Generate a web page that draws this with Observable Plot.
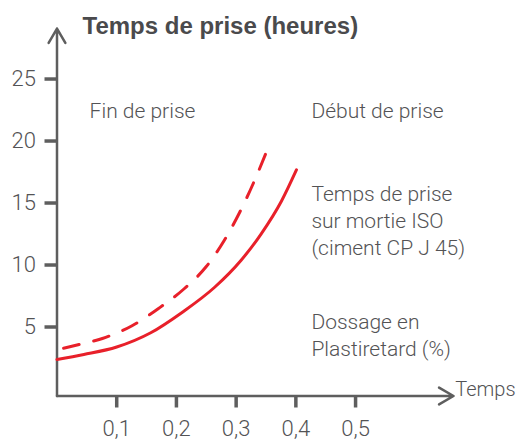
<!DOCTYPE html>
<html>
<head>
<meta charset="utf-8">
<script src="https://cdn.jsdelivr.net/npm/d3@7"></script>
<script src="https://cdn.jsdelivr.net/npm/@observablehq/plot@0.6"></script>
<style>
  html, body { margin: 0; padding: 0; background: #fff; }
  #chart { width: 516px; height: 441px; }
</style>
</head>
<body>
<div id="chart"></div>
<script>
// Title and labels
const title = "Temps de prise (heures)";
const xAxisLabel = "Temps";
const labelFin = "Fin de prise";
const labelDebut = "Début de prise";
const labelIso = "Temps de prise\nsur mortie ISO\n(ciment CP J 45)";
const labelDosage = "Dossage en\nPlastiretard (%)";

// Tick values and labels
const xTicks = [0.1, 0.2, 0.3, 0.4, 0.5];
const xTickLabels = ["0,1", "0,2", "0,3", "0,4", "0,5"];
const yTicks = [5, 10, 15, 20, 25];
const yTickLabels = ["5", "10", "15", "20", "25"];

// Solid curve (Fin de prise)
const finX = [0, 0.045, 0.1, 0.157, 0.21, 0.264, 0.308, 0.342, 0.376, 0.401];
const finY = [2.95, 3.35, 3.95, 5.1, 6.76, 8.77, 10.93, 13.08, 15.73, 18.24];

// Dashed curve (Début de prise)
const debutX = [0.011, 0.037, 0.076, 0.125, 0.170, 0.213, 0.25, 0.28, 0.306, 0.329, 0.355];
const debutY = [3.85, 4.15, 4.64, 5.65, 7.06, 8.65, 10.44, 12.54, 14.82, 17.18, 20.2];

const fin = finX.map((x, i) => ({x, y: finY[i]}));
const debut = debutX.map((x, i) => ({x, y: debutY[i]}));

const xMax = 0.664;
const yMax = 29.64;

const axisColor = "#5e5e5e";
const textColor = "#535355";
const red = "#e8202a";
const labelFont = "Roboto, sans-serif";

const chart = Plot.plot({
  width: 516,
  height: 441,
  marginLeft: 56.5,
  marginRight: 516 - 453,
  marginTop: 28,
  marginBottom: 45.5,
  style: {fontFamily: labelFont, background: "#fff", overflow: "visible"},
  x: {domain: [0, xMax]},
  y: {domain: [0, yMax]},
  marks: [
    Plot.axisY({
      ticks: yTicks,
      tickSize: 12,
      tickPadding: 9,
      strokeWidth: 3.5,
      stroke: axisColor,
      fill: textColor,
      fontSize: 22,
      fontWeight: 300,
      dy: -7,
      tickFormat: d => yTickLabels[yTicks.indexOf(d)],
      label: null
    }),
    Plot.axisX({
      ticks: xTicks,
      tickSize: 12,
      tickPadding: 12,
      strokeWidth: 3.5,
      stroke: axisColor,
      fill: textColor,
      fontSize: 22,
      fontWeight: 300,
      tickFormat: d => xTickLabels[xTicks.indexOf(d)],
      label: null
    }),
    Plot.arrow([0], {x1: 0, y1: 0, x2: xMax, y2: 0, stroke: axisColor, strokeWidth: 2.5, headLength: 10}),
    Plot.arrow([0], {x1: 0, y1: 0, x2: 0, y2: yMax, stroke: axisColor, strokeWidth: 2.5, headLength: 10}),
    Plot.line(fin, {x: "x", y: "y", stroke: red, strokeWidth: 3, curve: "monotone-x"}),
    Plot.line(debut, {x: "x", y: "y", stroke: red, strokeWidth: 3, strokeDasharray: "16,15", curve: "monotone-x"}),
    Plot.text([title], {frameAnchor: "top-left", dx: 25.5, dy: 5, lineAnchor: "bottom", textAnchor: "start",
      fontFamily: "'Liberation Sans', Arial, sans-serif", fontWeight: "bold", fontSize: 24, fill: "#4a4a4c"}),
    Plot.text([labelFin], {x: 0.0546, y: 22.27, dy: -2, textAnchor: "start", lineAnchor: "bottom", fontSize: 21, fontWeight: 300, fill: textColor}),
    Plot.text([labelDebut], {x: 0.426, y: 22.27, dy: -2, textAnchor: "start", lineAnchor: "bottom", fontSize: 21, fontWeight: 300, fill: textColor}),
    Plot.text([labelIso], {x: 0.426, y: 16.98, dy: -3, textAnchor: "start", lineAnchor: "top", lineHeight: 1.27, fontSize: 21, fontWeight: 300, fill: textColor}),
    Plot.text([labelDosage], {x: 0.426, y: 6.57, dy: -4, textAnchor: "start", lineAnchor: "top", lineHeight: 1.27, fontSize: 21, fontWeight: 300, fill: textColor}),
    Plot.text([xAxisLabel], {x: 0.667, y: 0, dy: 0, textAnchor: "start", lineAnchor: "bottom", fontSize: 20, fontWeight: 300, fill: textColor})
  ]
});
document.getElementById("chart").appendChild(chart);
</script>
</body>
</html>
